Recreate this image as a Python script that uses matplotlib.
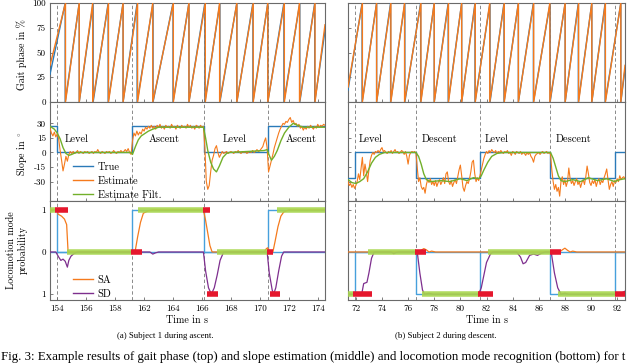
import numpy as np
import matplotlib
matplotlib.use('Agg')
import matplotlib.pyplot as plt
from matplotlib.lines import Line2D

plt.rcParams['font.family'] = ['cmr10', 'DejaVu Serif']
plt.rcParams['mathtext.fontset'] = 'cm'
plt.rcParams['axes.unicode_minus'] = False

# ---------------- DATA ----------------
# Left panel (Subject 1, ascent) -- x in plot time units
L_xlim = (153.5, 172.5)
L_xticks = [154, 156, 158, 160, 162, 164, 166, 168, 170, 172]
L_xticklabels = ['154', '156', '158', '162', '164', '166', '168', '170', '172', '174']
L_trans = [154.0, 159.17, 164.14, 168.55]
L_slope_true = [27, 0, 27, 0, 27]
L_SA_true = [1, 0, 1, 0, 1]
L_SD_true = [0, 0, 0, 0, 0]
L_mode_names = ['Level', 'Ascent', 'Level', 'Ascent']
L_mode_text_x = [154.55, 160.3, 165.45, 169.8]

L_gp_true_start, L_gp_true_end = 28, 72
L_gp_true_resets = [154.55, 155.52, 156.48, 157.52, 158.55, 159.52, 160.62, 162.0, 163.1,
                    164.2, 165.24, 166.41, 167.52, 168.55, 169.66, 170.76, 171.79]
L_gp_est_start, L_gp_est_end = 37, 78
L_gp_est_resets = [154.57, 155.52, 156.45, 157.54, 158.55, 159.55, 160.60, 162.02, 163.1,
                   164.23, 165.22, 166.41, 167.54, 168.55, 169.69, 170.74, 171.81]

L_est_t0, L_est_dt = 153.5, 0.1
L_slope_est = [25, 20, 17, 21, 16, 19, 14, 2, -8, -19, -12, -4, -9, -2, 1, -1, 1, -1, 0, 2,
               -1, 1, 0, -1, 1, 0, 1, -1, 0, 1, -1, 1, 0, 3, 0, -1, 1, 0, -1, 1,
               0, 1, -1, 0, 2, 0, -1, 1, 0, 2, 0, 1, 3, 1, 4, 0, -2, 12, 20, 17,
               22, 18, 21, 19, 24, 22, 26, 24, 27, 25, 28, 25, 27, 24, 28, 26, 29, 25, 27, 24,
               28, 26, 27, 25, 29, 26, 27, 24, 28, 26, 25, 28, 26, 27, 25, 29, 26, 28, 25, 27,
               24, 28, 27, 25, 28, 26, 27, 5, -30, -38, -34, -20, -8, -3, 4, 7, 0, -5, -2, 1,
               -1, 0, 1, -1, 0, 1, 0, -1, 1, 0, 2, 0, -1, 1, 0, 1, -1, 0, 1, 0,
               2, 0, 1, 3, 1, 2, 4, 6, 11, 15, 5, -20, -14, -8, -2, 5, 10, 15, 20, 24,
               27, 30, 29, 32, 31, 34, 36, 31, 33, 29, 30, 27, 29, 25, 27, 23, 26, 24, 27, 25,
               28, 26, 24, 27, 25, 29, 26, 28, 27, 29, 28]
L_filt_t = [153.5, 153.8, 154.0, 154.2, 154.4, 154.6, 154.8, 155.0, 155.3, 159.1, 159.2, 159.4,
            159.6, 159.8, 160.0, 160.3, 160.6, 161.0, 164.1, 164.25, 164.4, 164.6, 164.8, 165.0,
            165.2, 165.45, 165.7, 165.9, 168.3, 168.5, 168.65, 168.8, 169.0, 169.2, 169.45, 169.7,
            170.0, 170.3, 170.6, 171.0, 172.5]
L_filt_v = [27, 24, 20, 14, 5, -1, -3, -2, 0, 0, -2, 6, 13, 17, 19, 22, 24, 26, 26, 15, 2, -10,
            -17, -20, -14, -5, -1, 0, 2, 3, -3, -8, -4, 2, 12, 20, 26, 30, 28, 26, 26]

L_SA_t = [153.5, 154.0, 154.05, 154.3, 154.5, 154.65, 154.75, 159.3, 159.4, 159.55, 159.75, 159.95,
          160.3, 160.6, 164.1, 164.25, 164.4, 164.55, 164.7, 168.3, 168.45, 168.55, 168.65, 168.9,
          169.05, 169.25, 169.45, 169.65, 170.0, 172.5]
L_SA_p = [1.0, 1.0, 0.9, 0.85, 0.78, 0.65, 0.0, 0.0, 0.05, 0.35, 0.7, 0.92, 0.98, 1.0, 1.0, 0.75,
          0.45, 0.15, 0.0, 0.0, 0.08, 0.1, 0.0, 0.0, 0.25, 0.6, 0.85, 0.95, 1.0, 1.0]
L_SD_t = [153.5, 153.9, 154.1, 154.25, 154.4, 154.55, 154.7, 154.8, 154.95, 155.15, 155.4, 160.4,
          160.6, 160.8, 161.0, 164.1, 164.25, 164.45, 164.65, 164.85, 165.05, 165.25, 165.5, 168.5,
          168.65, 168.85, 168.95, 169.1, 169.3, 169.5, 169.65, 172.5]
L_SD_p = [0, 0, 0.12, 0.2, 0.17, 0.22, 0.36, 0.2, 0.1, 0.04, 0.0, 0.0, 0.05, 0.02, 0, 0, 0.45,
          0.85, 1.0, 0.85, 0.55, 0.2, 0.0, 0.0, 0.5, 0.9, 1.0, 0.85, 0.45, 0.1, 0.0, 0.0]
L_ok_bars = [(153.5, 153.86, 1), (154.7, 159.1, 0), (159.6, 164.07, 1), (165.03, 168.55, 0),
             (169.17, 172.5, 1)]
L_err_bars = [(153.86, 154.76, 1), (159.1, 159.86, 0), (164.07, 164.55, 1), (164.34, 165.1, -1),
              (168.48, 168.9, 0), (168.7, 169.38, -1)]

# Right panel (Subject 2, descent)
R_xlim = (71.4, 92.6)
R_xticks = [72, 74, 76, 78, 80, 82, 84, 86, 88, 90, 92]
R_xticklabels = ['72', '74', '76', '78', '80', '82', '84', '86', '88', '90', '92']
R_trans = [71.92, 76.6, 81.5, 86.87, 91.85]
R_slope_true = [-26, 0, -26, 0, -26, 0]
R_SA_true = [0, 0, 0, 0, 0, 0]
R_SD_true = [1, 0, 1, 0, 1, 0]
R_mode_names = ['Level', 'Descent', 'Level', 'Descent']
R_mode_text_x = [72.23, 77.06, 81.9, 87.33]

R_gp_true_start, R_gp_true_end = 12, 33
R_gp_true_resets = [72.48, 73.59, 74.66, 75.75, 76.96, 78.0, 79.07, 80.1, 81.12, 82.27, 83.34,
                    84.44, 85.59, 86.87, 88.02, 89.03, 90.06, 91.08, 92.28]
R_gp_est_start, R_gp_est_end = 15, 37
R_gp_est_resets = [72.50, 73.59, 74.68, 75.73, 76.98, 78.0, 79.09, 80.1, 81.14, 82.25, 83.36,
                   84.44, 85.61, 86.85, 88.02, 89.05, 90.06, 91.10, 92.28]

R_est_t0, R_est_dt = 71.4, 0.1
R_slope_est = [-30, -34, -32, -36, -33, -37, -34, -30, -22, -28, -16, -5, -24, -12, -20, -30, -18,
               -8, -3, 0, -2, 1, 0, 2, 0, 3, 5, 1, 2, 0, -1, 1, 0, 2, -1, 1, 3, 0, 1, -1,
               0, 2, 1, -2, 1, -4, -12, -3, 0, 1, 0, 1, -1, -15, -30, -26, -35, -38, -36, -42,
               -33, -28, -31, -27, -33, -30, -34, -29, -35, -31, -28, -33, -30, -26, -32, -22, -20,
               -30, -33, -29, -35, -31, -28, -32, -25, -18, -13, -24, -36, -40, -34, -30, -32, -27,
               -20, -10, -8, -22, -30, -26, -29, -24, -18, -12, -6, -2, 1, -1, 2, 0, 3, 1, 0, 2,
               -1, 1, 0, 2, 0, -1, 1, 0, 2, -1, 0, -3, 1, 0, -2, 1, 0, -1, 1, -2, 0, -1, -3, 0,
               -2, 0, -4, -6, -10, -4, -2, -1, 0, -2, 0, 1, -1, 0, 1, -1, 0, -2, -18, -30, -38,
               -33, -40, -36, -45, -30, -25, -33, -28, -35, -30, -16, -27, -32, -29, -34, -30, -27,
               -33, -30, -36, -31, -28, -33, -25, -14, -22, -31, -34, -29, -32, -28, -35, -30, -27,
               -33, -29, -31, -26, -22, -17, -28, -38, -33, -30, -35, -29, -31, -27, -30, -24, -28,
               -26, -25, -27]
R_filt_t = [71.4, 71.7, 72.0, 72.3, 72.6, 72.9, 73.2, 73.5, 73.8, 74.2, 76.6, 76.8, 77.0, 77.2,
            77.4, 77.7, 78.5, 79.2, 80.0, 80.5, 81.0, 81.4, 81.6, 81.8, 82.1, 82.4, 82.8, 83.3,
            86.9, 87.1, 87.3, 87.5, 87.7, 88.0, 88.6, 89.2, 89.8, 90.5, 91.2, 91.8, 92.2, 92.6]
R_filt_v = [-28, -31, -32, -30, -27, -20, -11, -5, -2, 0, 0, -4, -12, -22, -28, -30, -29, -30, -27,
            -29, -26, -27, -24, -18, -10, -4, -1, 0, 0, -6, -15, -24, -29, -30, -28, -30, -26,
            -29, -27, -30, -28, -27]

R_SA_t = [71.4, 76.8, 77.0, 77.2, 77.4, 77.6, 77.8, 78.1, 87.6, 87.8, 88.0, 88.2, 88.4, 88.6,
          88.9, 92.6]
R_SA_p = [0.0, 0.0, 0.04, 0.08, 0.05, 0.0, 0.02, 0.0, 0.0, 0.05, 0.09, 0.04, 0.0, 0.02, 0.0, 0.0]
R_SD_t = [71.4, 72.45, 72.6, 72.85, 73.0, 73.2, 73.4, 74.7, 74.9, 75.1, 75.3, 76.7, 76.9, 77.1,
          77.25, 77.6, 77.9, 81.4, 81.6, 81.8, 82.0, 82.3, 82.5, 84.3, 84.6, 84.8, 85.0, 85.3,
          85.6, 85.9, 86.2, 86.5, 86.95, 87.2, 87.45, 87.7, 88.0, 88.3, 91.9, 92.3, 92.6]
R_SD_p = [1.0, 1.0, 0.75, 0.72, 0.5, 0.15, 0.0, 0.0, 0.04, 0.01, 0.0, 0.0, 0.5, 0.9, 1.0, 0.98,
          1.0, 1.0, 0.85, 0.55, 0.25, 0.05, 0.0, 0.0, 0.12, 0.28, 0.25, 0.08, 0.05, 0.08, 0.03,
          0.0, 0.0, 0.5, 0.85, 1.0, 0.98, 1.0, 1.0, 0.98, 0.93]
R_ok_bars = [(71.4, 71.8, -1), (72.9, 76.6, 0), (77.06, 81.45, -1), (82.1, 86.87, 0),
             (87.5, 91.85, -1)]
R_err_bars = [(71.77, 73.2, -1), (76.5, 77.4, 0), (81.35, 82.5, -1), (86.87, 87.73, 0),
              (91.85, 92.6, -1)]

CAPTION_A = '(a) Subject 1 during ascent.'
CAPTION_B = '(b) Subject 2 during descent.'
CAPTION_FIG = ('Fig. 3: Example results of gait phase (top) and slope estimation (middle) and '
               'locomotion mode recognition (bottom) for t')

# ---------------- STYLE ----------------
C_TRUE = '#2a7ab8'
C_EST = '#f57a1c'
C_FILT = '#72b02a'
C_SD = '#7e2f8e'
C_MODE_TRUE = '#47a0dc'
C_OK = '#a8d64e'
C_ERR = '#e5172d'
C_DASH = '#8a8a8a'
C_SPINE = '#6a6a6a'
TICK_FS = 6.5
LAB_FS = 7.2
TXT_FS = 7.5

W, H = 640, 364
fig = plt.figure(figsize=(6.4, 3.64), dpi=100)


def px_axes(x0, y0, x1, y1):
    return fig.add_axes([x0 / W, 1 - y1 / H, (x1 - x0) / W, (y1 - y0) / H])


def sawtooth_xy(x0, y0, resets, x1, y1):
    xs, ys = [x0], [y0]
    for r in resets:
        xs += [r, r]
        ys += [100, 0]
    xs.append(x1)
    ys.append(y1)
    return xs, ys


def step_xy(x0, trans, levels, x1):
    xs, ys = [x0], [levels[0]]
    for t, a, b in zip(trans, levels[:-1], levels[1:]):
        xs += [t, t]
        ys += [a, b]
    xs.append(x1)
    ys.append(levels[-1])
    return xs, ys


def style(ax, xlim, xticks, xticklabels, show_xlabels, show_ylabels):
    ax.set_xlim(*xlim)
    ax.set_xticks(xticks)
    if show_xlabels:
        ax.set_xticklabels(xticklabels)
    else:
        ax.set_xticklabels([])
    if not show_ylabels:
        ax.set_yticklabels([])
    for s in ax.spines.values():
        s.set_color(C_SPINE)
        s.set_linewidth(0.8)
    ax.tick_params(direction='in', length=2.5, width=0.6, color=C_SPINE,
                   labelsize=TICK_FS, pad=3)


cols = [
    dict(x0=50, x1=325, xlim=L_xlim, xt=L_xticks, xtl=L_xticklabels, trans=L_trans,
         slope_true=L_slope_true, SA_true=L_SA_true, SD_true=L_SD_true,
         names=L_mode_names, names_x=L_mode_text_x,
         gp=(L_gp_true_start, L_gp_true_resets, L_gp_true_end),
         gpe=(L_gp_est_start, L_gp_est_resets, L_gp_est_end),
         est=(L_est_t0, L_est_dt, L_slope_est), filt=(L_filt_t, L_filt_v),
         SA=(L_SA_t, L_SA_p), SD=(L_SD_t, L_SD_p), ok=L_ok_bars, err=L_err_bars,
         ylab=True),
    dict(x0=348, x1=625, xlim=R_xlim, xt=R_xticks, xtl=R_xticklabels, trans=R_trans,
         slope_true=R_slope_true, SA_true=R_SA_true, SD_true=R_SD_true,
         names=R_mode_names, names_x=R_mode_text_x,
         gp=(R_gp_true_start, R_gp_true_resets, R_gp_true_end),
         gpe=(R_gp_est_start, R_gp_est_resets, R_gp_est_end),
         est=(R_est_t0, R_est_dt, R_slope_est), filt=(R_filt_t, R_filt_v),
         SA=(R_SA_t, R_SA_p), SD=(R_SD_t, R_SD_p), ok=R_ok_bars, err=R_err_bars,
         ylab=False),
]

for c in cols:
    xmin, xmax = c['xlim']
    ax1 = px_axes(c['x0'], 3, c['x1'], 102)
    ax2 = px_axes(c['x0'], 102, c['x1'], 201)
    ax3 = px_axes(c['x0'], 201, c['x1'], 300)

    # --- gait phase ---
    xs, ys = sawtooth_xy(xmin, c['gp'][0], c['gp'][1], xmax, c['gp'][2])
    ax1.plot(xs, ys, color=C_TRUE, lw=1.0, zorder=3)
    xs, ys = sawtooth_xy(xmin, c['gpe'][0], c['gpe'][1], xmax, c['gpe'][2])
    ax1.plot(xs, ys, color=C_EST, lw=1.0, zorder=4)
    ax1.set_ylim(0, 100)
    ax1.set_yticks([0, 25, 50, 75, 100])

    # --- slope ---
    xs, ys = step_xy(xmin, c['trans'], c['slope_true'], xmax)
    ax2.plot(xs, ys, color=C_TRUE, lw=1.0, zorder=3)
    t0, dt, vals = c['est']
    t = t0 + dt * np.arange(len(vals))
    ax2.plot(t, vals, color=C_EST, lw=0.8, zorder=4)
    ax2.plot(c['filt'][0], c['filt'][1], color=C_FILT, lw=1.0, zorder=5)
    ax2.set_ylim(-50, 52)
    ax2.set_yticks([-30, -15, 0, 15, 30])
    if c['ylab']:
        ax2.set_yticklabels(['-30', '-15', '0', '15', '30'])
    for name, tx in zip(c['names'], c['names_x']):
        ax2.text(tx, 13.5, name, fontsize=TXT_FS, ha='left', va='center', zorder=6)

    # --- mode probability ---
    xs, ys = step_xy(xmin, c['trans'], c['SA_true'], xmax)
    ax3.plot(xs, ys, color=C_MODE_TRUE, lw=1.0, zorder=2)
    xs, ys = step_xy(xmin, c['trans'], [-v for v in c['SD_true']], xmax)
    ax3.plot(xs, ys, color=C_MODE_TRUE, lw=1.0, zorder=2)
    ax3.plot(c['SA'][0], c['SA'][1], color=C_EST, lw=0.9, zorder=3)
    ax3.plot(c['SD'][0], [-p for p in c['SD'][1]], color=C_SD, lw=0.9, zorder=3)
    for a, b, lv in c['ok']:
        ax3.hlines(lv, a, b, color=C_OK, lw=4.0, alpha=0.9, zorder=4)
    for a, b, lv in c['err']:
        ax3.hlines(lv, a, b, color=C_ERR, lw=4.0, zorder=5)
    ax3.set_ylim(-1.14, 1.21)
    ax3.set_yticks([-1, 0, 1])
    if c['ylab']:
        ax3.set_yticklabels(['1', '0', '1'])

    for ax in (ax1, ax2, ax3):
        for tr in c['trans']:
            ax.axvline(tr, color=C_DASH, lw=0.7, ls=(0, (3.5, 2.5)), zorder=1)

    style(ax1, c['xlim'], c['xt'], c['xtl'], False, c['ylab'])
    style(ax2, c['xlim'], c['xt'], c['xtl'], False, c['ylab'])
    style(ax3, c['xlim'], c['xt'], c['xtl'], True, c['ylab'])
    ax3.set_xlabel('Time in s', fontsize=LAB_FS, labelpad=2)

    if c['ylab']:
        h = [Line2D([], [], color=C_TRUE, lw=1.0), Line2D([], [], color=C_EST, lw=1.0),
             Line2D([], [], color=C_FILT, lw=1.0)]
        ax2.legend(h, ['True', 'Estimate', 'Estimate Filt.'], loc='upper left',
                   bbox_to_anchor=(0.084, 0.39), frameon=False, fontsize=TXT_FS,
                   handlelength=1.9, labelspacing=0.42, handletextpad=0.45,
                   borderaxespad=0, borderpad=0)
        h = [Line2D([], [], color=C_EST, lw=1.0), Line2D([], [], color=C_SD, lw=1.0)]
        ax3.legend(h, ['SA', 'SD'], loc='upper left', bbox_to_anchor=(0.084, 0.25),
                   frameon=False, fontsize=TXT_FS, handlelength=1.9, labelspacing=0.42,
                   handletextpad=0.45, borderaxespad=0, borderpad=0)

# y labels
fig.text(22 / W, 1 - 55 / H, 'Gait phase in %', rotation=90, ha='center', va='center',
         fontsize=LAB_FS)
fig.text(22 / W, 1 - 153 / H, r'Slope in $^\circ$', rotation=90, ha='center', va='center',
         fontsize=LAB_FS)
fig.text(17 / W, 1 - 250 / H, 'Locomotion mode\nprobability', rotation=90, ha='center',
         va='center', fontsize=LAB_FS, linespacing=1.3, multialignment='center')

# captions
fig.text(165 / W, 1 - 336 / H, CAPTION_A, ha='center', va='center',
         family='Liberation Serif', fontsize=6.3)
fig.text(446 / W, 1 - 336 / H, CAPTION_B, ha='center', va='center',
         family='Liberation Serif', fontsize=6.3)
fig.text(1 / W, 1 - 357 / H, CAPTION_FIG, ha='left', va='center',
         family='Liberation Serif', fontsize=9.3)

fig.savefig('out.png', dpi=100)
